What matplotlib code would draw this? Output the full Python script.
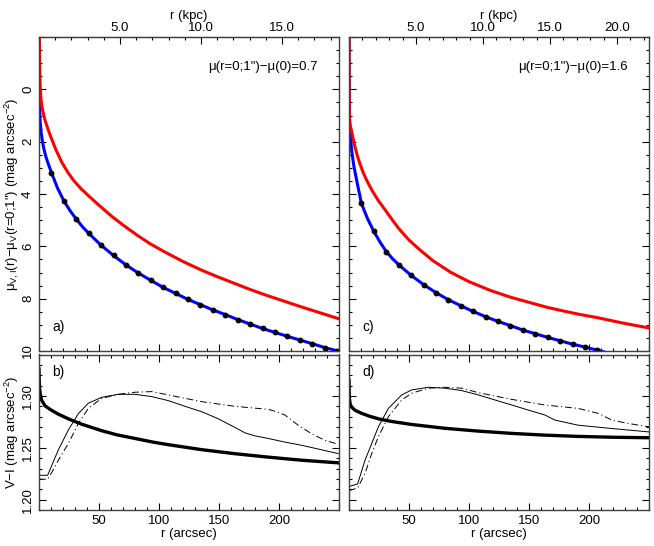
import numpy as np
import matplotlib.pyplot as plt
from matplotlib.ticker import MultipleLocator, FuncFormatter

plt.rcParams.update({
    "font.family": ["Liberation Sans", "DejaVu Sans"],
    "mathtext.fontset": "custom",
    "mathtext.rm": "Liberation Sans",
    "mathtext.it": "Liberation Sans",
    "mathtext.default": "regular",
    "font.size": 9.5,
})

# ---------- data ----------
# panel a) surface brightness profiles (r in arcsec, mag arcsec^-2)
red_a_r = [0, 0.3, 0.6, 1.0, 1.7, 2.5, 3.6, 5, 7.8, 10, 14, 18.9, 24, 28.6, 35, 42.5, 50, 60, 71, 82,
           92.5, 105, 120, 135, 148, 162, 176, 190, 200, 215, 230, 250]
red_a_mu = [-2.5, -1.89, -0.9, -0.1, 0.41, 0.68, 0.92, 1.18, 1.56, 1.84, 2.30, 2.78, 3.17, 3.47, 3.80, 4.12,
            4.43, 4.83, 5.22, 5.58, 5.90, 6.22, 6.58, 6.90, 7.15, 7.40, 7.65, 7.88, 8.03, 8.26, 8.48, 8.77]
blue_a_r = [0, 0.1, 0.3, 0.55, 1.0, 1.7, 2.8, 4.2, 5.6, 7.2]
blue_a_mu = [-2.5, -1.0, 0.3, 0.85, 1.25, 1.62, 1.98, 2.3, 2.55, 2.78]
blue_a_mid_r = [15.5, 25.9, 36.2]
blue_a_mid_mu = [3.78, 4.64, 5.25]
dots_a_mu = [3.18, 4.26, 4.96, 5.50, 5.96, 6.35, 6.71, 7.02, 7.30, 7.57, 7.80, 8.03,
             8.23, 8.43, 8.61, 8.80, 8.97, 9.14, 9.29, 9.44, 9.58, 9.72, 9.87, 9.99]

# panel c)
red_c_r = [0, 0.15, 0.3, 1.0, 2.2, 3.5, 5, 7, 9.2, 12, 15, 19, 24.4, 30, 35, 41.1, 50, 59.2, 70, 85,
           100, 117.5, 135, 150.8, 165, 178.6, 192, 206.4, 228, 250]
red_c_mu = [-2.5, 0.0, 1.12, 1.38, 1.62, 1.9, 2.2, 2.55, 2.86, 3.2, 3.5, 3.85, 4.25, 4.6, 4.92, 5.3,
            5.76, 6.14, 6.55, 7.0, 7.35, 7.68, 7.95, 8.15, 8.33, 8.47, 8.6, 8.72, 8.93, 9.12]
blue_c_r = [0, 0.15, 0.5, 1.2, 2.2, 4.0, 6.4]
blue_c_mu = [-2.5, 0.0, 1.2, 1.8, 2.33, 2.92, 3.48]
blue_c_mid_r = [15.5, 25.9, 36.2]
blue_c_mid_mu = [4.95, 5.84, 6.47]
dots_c_mu = [4.36, 5.43, 6.2, 6.70, 7.11, 7.46, 7.77, 8.04, 8.27, 8.49, 8.69, 8.87,
             9.03, 9.20, 9.34, 9.48, 9.61, 9.74, 9.85, 9.97]
blue_c_end = (213.6, 10.05)

dot_step = 10.35  # arcsec between sampled points

# panel b) V-I colour profiles
thick_b_r = [0, 0.2, 0.4, 1.0, 2.2, 5, 10, 16, 24.4, 35, 52.2, 65, 80, 95, 107.8, 135.6, 163.3, 191, 219, 249.4]
thick_b_v = [1.326, 1.315, 1.308, 1.302, 1.296, 1.2905, 1.2865, 1.2825, 1.278, 1.273, 1.2665, 1.2625, 1.259,
             1.2555, 1.253, 1.2482, 1.2443, 1.241, 1.238, 1.2355]
thin_b_r = [0, 7.2, 11, 16.1, 24.4, 32.8, 41.1, 52.2, 66.1, 80, 93.9, 107.8, 121.7, 135.6, 149.4, 163.3,
            171.7, 180, 191, 205, 219, 235, 249.4]
thin_b_v = [1.2235, 1.2235, 1.234, 1.248, 1.267, 1.283, 1.293, 1.2987, 1.3016, 1.3016, 1.2994, 1.2955, 1.290,
            1.2848, 1.278, 1.2696, 1.2644, 1.2615, 1.259, 1.2555, 1.2524, 1.2482, 1.2444]
dash_b_r = [0, 7.2, 11, 16.1, 24.4, 32.8, 41.1, 52.2, 66.1, 80, 93.9, 107.8, 121.7, 135.6, 163.3, 191, 198,
            205, 216, 227, 238, 249.4]
dash_b_v = [1.2197, 1.2197, 1.227, 1.238, 1.254, 1.2735, 1.288, 1.2977, 1.3016, 1.3036, 1.3042, 1.301, 1.2977,
            1.2945, 1.290, 1.2871, 1.2848, 1.2815, 1.2718, 1.2637, 1.2573, 1.2534]

# panel d)
thick_d_r = [0, 0.2, 0.4, 1.0, 2.2, 5, 10.6, 17, 24.4, 35, 52.2, 80, 107.8, 135.6, 163.3, 191, 219, 250]
thick_d_v = [1.3155, 1.303, 1.297, 1.292, 1.2893, 1.2862, 1.2832, 1.2805, 1.278, 1.2755, 1.2725, 1.2688,
             1.2661, 1.2639, 1.2622, 1.261, 1.2602, 1.2597]
thin_d_r = [0, 7.2, 13.3, 18.9, 24.4, 32.8, 43.9, 52.2, 66.1, 80, 93.9, 107.8, 121.7, 135.6, 149.4, 163.3,
            171.7, 191, 219, 250]
thin_d_v = [1.2126, 1.2152, 1.2379, 1.2541, 1.270, 1.288, 1.301, 1.3058, 1.3084, 1.3075, 1.3052, 1.301, 1.2961,
            1.2913, 1.2864, 1.2816, 1.2767, 1.2718, 1.2686, 1.2653]
dash_d_r = [0, 7.2, 13.3, 18.9, 24.4, 32.8, 43.9, 52.2, 66.1, 80, 93.9, 107.8, 135.6, 163.3, 191, 207.8, 219,
            232.8, 250]
dash_d_v = [1.2087, 1.2113, 1.225, 1.2444, 1.2605, 1.280, 1.2961, 1.3026, 1.3075, 1.3084, 1.3075, 1.3032,
            1.2967, 1.2913, 1.288, 1.2832, 1.2767, 1.2735, 1.2702]

# arcsec per kpc for the two galaxies
scale_left = 13.5
scale_right = 11.17
offsets = ["0.7", "1.6"]

fig = plt.figure(figsize=(6.54, 5.46), dpi=100)
W = 654.0
H = 546.0


def box(x0, y0, x1, y1):
    return [x0 / W, 1 - y1 / H, (x1 - x0) / W, (y1 - y0) / H]


ax_a = fig.add_axes(box(39, 37, 339, 351))
ax_c = fig.add_axes(box(349, 37, 649, 351))
ax_b = fig.add_axes(box(39, 354.5, 339, 510))
ax_d = fig.add_axes(box(349, 354.5, 649, 510))

frame = "0.25"


def skip(fmt, lo, hi):
    # blank labels at the frame edges, like the original plot
    def f(v, pos):
        if v < lo - 1e-9 or v > hi + 1e-9:
            return ""
        return fmt % v
    return FuncFormatter(f)


def style(ax, top_ticks=True):
    for s in ax.spines.values():
        s.set_color(frame)
        s.set_linewidth(1.0)
    ax.tick_params(which="both", direction="in", top=top_ticks, right=True,
                   color="black", width=0.8)
    ax.tick_params(which="major", length=5)
    ax.tick_params(which="minor", length=2.5)
    ax.set_xlim(0, 250)
    ax.xaxis.set_major_locator(MultipleLocator(50))
    ax.xaxis.set_minor_locator(MultipleLocator(10))
    ax.xaxis.set_major_formatter(skip("%d", 1, 249))


def top_panel(ax, red_r, red_mu, blue_r, blue_mu, mid_r, mid_mu, dots_mu, scale, label, offset,
              extra=None):
    style(ax, top_ticks=False)
    dots_r = list(dot_step * np.arange(1, len(dots_mu) + 1))
    pts = sorted(zip(list(blue_r) + list(mid_r) + dots_r, list(blue_mu) + list(mid_mu) + list(dots_mu)))
    if extra is not None:
        pts.append(extra)
    br = [p[0] for p in pts]
    bm = [p[1] for p in pts]
    ax.plot(br, bm, color="#0000ff", lw=2.2, solid_capstyle="butt")
    ax.plot(dots_r, dots_mu, "o", color="black", ms=3.2)
    ax.plot(red_r, red_mu, color="#ff0000", lw=2.2)
    ax.set_ylim(10, -2)
    ax.yaxis.set_major_locator(MultipleLocator(2))
    ax.yaxis.set_minor_locator(MultipleLocator(0.5))
    ax.yaxis.set_major_formatter(skip("%d", 0, 10))
    ax.tick_params(axis="x", labelbottom=False)
    ax.text(0.045, 0.065, label, transform=ax.transAxes, fontsize=10)
    ax.text(0.93, 0.905, u"\u03bc(r=0;1\")\u2212\u03bc(0)=" + offset, transform=ax.transAxes,
            ha="right", va="center", fontsize=9.5)
    kmax = 250.0 / scale
    sec = ax.secondary_xaxis("top", functions=(lambda r: r / scale, lambda k: k * scale))
    sec.xaxis.set_major_locator(MultipleLocator(5))
    sec.xaxis.set_minor_locator(MultipleLocator(1))
    sec.xaxis.set_major_formatter(skip("%.1f", 1, kmax - 0.5))
    sec.tick_params(which="both", direction="in", width=0.8, pad=2)
    sec.tick_params(which="major", length=5)
    sec.tick_params(which="minor", length=2.5)
    sec.spines["top"].set_color(frame)
    sec.set_xlabel("r (kpc)", labelpad=2)
    return sec


def bottom_panel(ax, thick_r, thick_v, thin_r, thin_v, dash_r, dash_v, label):
    style(ax)
    ax.plot(thick_r, thick_v, color="black", lw=2.4)
    ax.plot(thin_r, thin_v, color="black", lw=0.7)
    ax.plot(dash_r, dash_v, color="black", lw=0.7, dashes=(7, 3, 1.2, 3))
    ax.set_ylim(1.19, 1.34)
    ax.yaxis.set_major_locator(MultipleLocator(0.05))
    ax.yaxis.set_minor_locator(MultipleLocator(0.01))
    ax.yaxis.set_major_formatter(skip("%.2f", 1.195, 1.335))
    ax.text(0.045, 0.86, label, transform=ax.transAxes, fontsize=10)
    ax.set_xlabel("r (arcsec)", labelpad=1)


top_panel(ax_a, red_a_r, red_a_mu, blue_a_r, blue_a_mu, blue_a_mid_r, blue_a_mid_mu, dots_a_mu,
          scale_left, "a)", offsets[0])
top_panel(ax_c, red_c_r, red_c_mu, blue_c_r, blue_c_mu, blue_c_mid_r, blue_c_mid_mu, dots_c_mu,
          scale_right, "c)", offsets[1], extra=blue_c_end)
bottom_panel(ax_b, thick_b_r, thick_b_v, thin_b_r, thin_b_v, dash_b_r, dash_b_v, "b)")
bottom_panel(ax_d, thick_d_r, thick_d_v, thin_d_r, thin_d_v, dash_d_r, dash_d_v, "d)")

ax_a.set_ylabel(u"\u03bc$_{V,I}$(r)\u2212\u03bc$_{V}$(r=0;1\") (mag arcsec$^{-2}$)", labelpad=1)
ax_b.set_ylabel(u"V\u2212I (mag arcsec$^{-2}$)", labelpad=1)
ax_c.tick_params(axis="y", labelleft=False)
ax_d.tick_params(axis="y", labelleft=False)

fig.canvas.draw()
for ax in (ax_a, ax_b):
    for t in ax.get_yticklabels():
        t.set_rotation(90)
        t.set_va("center")

fig.savefig("out.png", dpi=100)
